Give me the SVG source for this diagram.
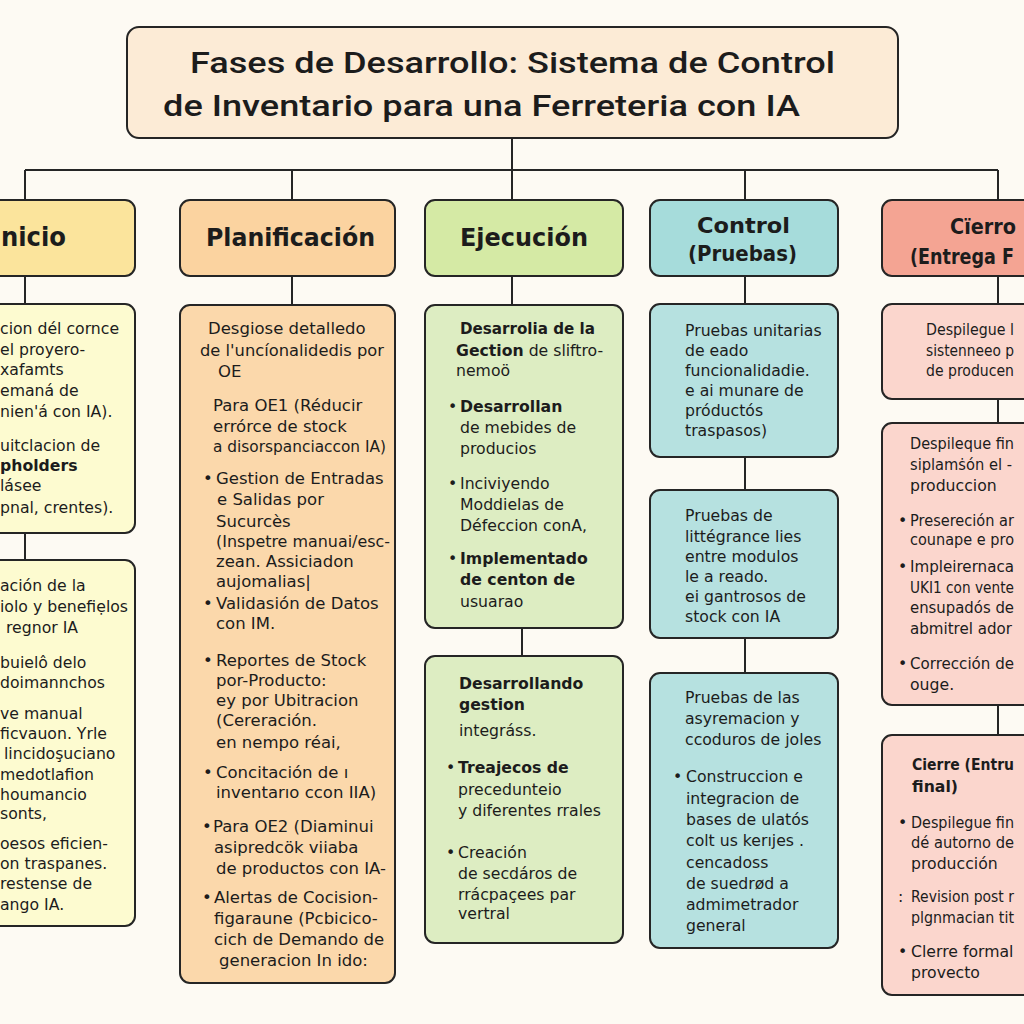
<svg xmlns="http://www.w3.org/2000/svg" width="1024" height="1024" viewBox="0 0 1024 1024">
<style>
.box{stroke:#252525;stroke-width:2}
.ln{stroke:#252525;stroke-width:2;fill:none}
text{font-family:"DejaVu Sans","Noto Sans",sans-serif;fill:#1c1c1c}
.t{font-size:15.7px}
.t2{font-size:16.5px}
.b{font-weight:700}
.sb{font-weight:700}
.h{font-size:24px;font-weight:700}
.h2{font-size:22px;font-weight:700}
.title{font-family:Roboto,"Liberation Sans",sans-serif;font-size:30px;font-weight:500}
</style>
<rect width="1024" height="1024" fill="#fdfaf3"/>
<g id="connectors">
<path class="ln" d="M512 138V170M25 170H998M25 170V200M292 170V200M512 170V200M745 170V200M998 170V200"/>
<path class="ln" d="M25 276V304M25 533V560M292 276V305M512 276V305M522 628V656M745 276V304M745 457V490M745 638V673M998 276V304M998 399V423M998 705V735"/>
</g>
<g id="title">
<rect class="box" x="127" y="27" width="771" height="111" rx="12" fill="#fcebd6"/>
<text class="title" x="190" y="73" textLength="645" lengthAdjust="spacingAndGlyphs">Fases de Desarrollo: Sistema de Control</text>
<text class="title" x="163" y="116" textLength="637" lengthAdjust="spacingAndGlyphs">de Inventario para una Ferreteria con IA</text>
</g>
<g id="inicio">
<rect class="box" x="-90" y="200" width="225" height="76" rx="10" fill="#fbe49c"/>
<text class="h" x="1" y="246" style="font-size:26px" textLength="65" lengthAdjust="spacingAndGlyphs">nicio</text>
</g>
<g id="inicio-1">
<rect class="box" x="-90" y="304" width="225" height="229" rx="10" fill="#fdfbd0"/>
<text class="t"><tspan x="0" y="334">cion dél cornce</tspan><tspan x="0" y="355">el proyero-</tspan><tspan x="0" y="375">xafamts</tspan><tspan x="0" y="396">emaná de</tspan><tspan x="0" y="417">nien'á con IA).</tspan><tspan x="0" y="451">uitclacion de</tspan><tspan x="0" y="471" class="b">pholders</tspan><tspan x="0" y="491">lásee</tspan><tspan x="0" y="513">pnal, crentes).</tspan></text>
</g>
<g id="inicio-2">
<rect class="box" x="-90" y="560" width="225" height="366" rx="10" fill="#fdfbd0"/>
<text class="t"><tspan x="0" y="591">ación de la</tspan><tspan x="0" y="612">iolo y benefiẹlos</tspan><tspan x="6" y="633">regnor IA</tspan><tspan x="0" y="668">buielô delo</tspan><tspan x="0" y="688">doimannchos</tspan><tspan x="0" y="719">ve manual</tspan><tspan x="0" y="739">ficvauon. Yrle</tspan><tspan x="4" y="759">lincidoşuciano</tspan><tspan x="0" y="780">medotlafion</tspan><tspan x="0" y="800">houmancio</tspan><tspan x="0" y="819">sonts,</tspan><tspan x="0" y="849">oesos eficien-</tspan><tspan x="0" y="869">on traspanes.</tspan><tspan x="0" y="889">restense de</tspan><tspan x="0" y="910">ango IA.</tspan></text>
</g>
<g id="planificacion">
<rect class="box" x="180" y="200" width="215" height="76" rx="10" fill="#fbd3a0"/>
<text class="h" x="206" y="246" textLength="169" lengthAdjust="spacingAndGlyphs">Planificación</text>
</g>
<g id="planificacion-1">
<rect class="box" x="180" y="305" width="215" height="678" rx="10" fill="#fbd8ab"/>
<text class="t2"><tspan x="208" y="334">Desgiose detalledo</tspan><tspan x="200" y="356" textLength="184" lengthAdjust="spacingAndGlyphs">de l'uncíonalidedis por</tspan><tspan x="218" y="377">OE</tspan><tspan x="213" y="411">Para OE1 (Réducir</tspan><tspan x="213" y="432">errórce de stock</tspan><tspan x="213" y="452" textLength="173" lengthAdjust="spacingAndGlyphs">a disorspanciaccon IA)</tspan>
<tspan x="203" y="484">•</tspan><tspan x="216" y="484">Gestion de Entradas</tspan><tspan x="217" y="505">e Salidas por</tspan><tspan x="216" y="527">Sucurcès</tspan><tspan x="216" y="547" textLength="174" lengthAdjust="spacingAndGlyphs">(Inspetre manuai/esc-</tspan><tspan x="216" y="567">zean. Assiciadon</tspan><tspan x="216" y="587">aujomalias|</tspan>
<tspan x="203" y="609">•</tspan><tspan x="216" y="609">Validasión de Datos</tspan><tspan x="216" y="629">con IM.</tspan>
<tspan x="203" y="666">•</tspan><tspan x="216" y="666">Reportes de Stock</tspan><tspan x="216" y="686">por-Producto:</tspan><tspan x="216" y="706">ey por Ubitracion</tspan><tspan x="216" y="726">(Cereración.</tspan><tspan x="216" y="748">en nempo réai,</tspan>
<tspan x="203" y="778">•</tspan><tspan x="216" y="778">Concitación de ı</tspan><tspan x="216" y="798">inventarıo ccon IIA)</tspan>
<tspan x="202" y="832">•</tspan><tspan x="213" y="832">Para OE2 (Diaminui</tspan><tspan x="214" y="853">asipredcök viiaba</tspan><tspan x="216" y="874">de productos con IA-</tspan>
<tspan x="202" y="903">•</tspan><tspan x="214" y="903">Alertas de Cocision-</tspan><tspan x="214" y="924">figaraune (Pcbicico-</tspan><tspan x="214" y="945">cich de Demando de</tspan><tspan x="219" y="966">generacion In ido:</tspan></text>
</g>
<g id="ejecucion">
<rect class="box" x="425" y="200" width="198" height="76" rx="10" fill="#d5eaa5"/>
<text class="h" x="460" y="246" textLength="128" lengthAdjust="spacingAndGlyphs">Ejecución</text>
</g>
<g id="ejecucion-1">
<rect class="box" x="425" y="305" width="198" height="323" rx="10" fill="#ddedc2"/>
<text class="t"><tspan x="460" y="334" class="sb" textLength="135" lengthAdjust="spacingAndGlyphs">Desarrolia de la</tspan><tspan x="456" y="356" class="sb">Gection</tspan><tspan> de sliftro-</tspan><tspan x="456" y="376">nemoö</tspan>
<tspan x="448" y="412">•</tspan><tspan x="460" y="412" class="sb">Desarrollan</tspan><tspan x="460" y="433">de mebides de</tspan><tspan x="460" y="454">producios</tspan>
<tspan x="448" y="489">•</tspan><tspan x="460" y="489">Inciviyendo</tspan><tspan x="460" y="510">Moddielas de</tspan><tspan x="460" y="531">Défeccion conA,</tspan>
<tspan x="448" y="564">•</tspan><tspan x="460" y="564" class="sb">Implementado</tspan><tspan x="460" y="585" class="sb">de centon de</tspan><tspan x="460" y="607">usuarao</tspan></text>
</g>
<g id="ejecucion-2">
<rect class="box" x="425" y="656" width="198" height="287" rx="10" fill="#ddedc2"/>
<text class="t"><tspan x="459" y="689" class="sb">Desarrollando</tspan><tspan x="459" y="710" class="sb">gestion</tspan><tspan x="459" y="736">integráss.</tspan>
<tspan x="446" y="773">•</tspan><tspan x="458" y="773" class="sb">Treajecos de</tspan><tspan x="458" y="795">precedunteio</tspan><tspan x="458" y="816">y diferentes rrales</tspan>
<tspan x="446" y="858">•</tspan><tspan x="458" y="858">Creación</tspan><tspan x="458" y="879">de secdáros de</tspan><tspan x="458" y="900">rrácpaçees par</tspan><tspan x="458" y="919">vertral</tspan></text>
</g>
<g id="control">
<rect class="box" x="650" y="200" width="188" height="76" rx="10" fill="#a6dcdb"/>
<text class="h2" x="697" y="233" textLength="93" lengthAdjust="spacingAndGlyphs">Control</text>
<text class="h2" x="688" y="261" textLength="109" lengthAdjust="spacingAndGlyphs">(Pruebas)</text>
</g>
<g id="control-1">
<rect class="box" x="650" y="304" width="188" height="153" rx="10" fill="#b6e1e0"/>
<text class="t"><tspan x="685" y="336">Pruebas unitarias</tspan><tspan x="685" y="356">de eado</tspan><tspan x="685" y="376">funcionalidadie.</tspan><tspan x="685" y="396">e ai munare de</tspan><tspan x="685" y="416">próductós</tspan><tspan x="685" y="436">traspasos)</tspan></text>
</g>
<g id="control-2">
<rect class="box" x="650" y="490" width="188" height="148" rx="10" fill="#b6e1e0"/>
<text class="t"><tspan x="685" y="521">Pruebas de</tspan><tspan x="685" y="542">littégrance lies</tspan><tspan x="685" y="562">entre modulos</tspan><tspan x="685" y="582">le a reado.</tspan><tspan x="685" y="602">ei gantrosos de</tspan><tspan x="685" y="622">stock con IA</tspan></text>
</g>
<g id="control-3">
<rect class="box" x="650" y="673" width="188" height="275" rx="10" fill="#b6e1e0"/>
<text class="t"><tspan x="685" y="703">Pruebas de las</tspan><tspan x="685" y="724">asyremacion y</tspan><tspan x="685" y="745">ccoduros de joles</tspan>
<tspan x="673" y="782">•</tspan><tspan x="686" y="782">Construccion e</tspan><tspan x="686" y="804">integracion de</tspan><tspan x="686" y="825">bases de ulatós</tspan><tspan x="686" y="846">colt us kerıjes .</tspan><tspan x="686" y="868">cencadoss</tspan><tspan x="686" y="889">de suedrød a</tspan><tspan x="686" y="910">admimetrador</tspan><tspan x="686" y="931">general</tspan></text>
</g>
<g id="cierre">
<rect class="box" x="882" y="200" width="220" height="76" rx="10" fill="#f4a493"/>
<text class="h2" x="950" y="234" textLength="66" lengthAdjust="spacingAndGlyphs">Cïerro</text>
<text class="h2" x="910" y="264" textLength="104" lengthAdjust="spacingAndGlyphs">(Entrega F</text>
</g>
<g id="cierre-1">
<rect class="box" x="882" y="304" width="220" height="95" rx="10" fill="#fbd6cd"/>
<text class="t"><tspan x="926" y="335" textLength="88" lengthAdjust="spacingAndGlyphs">Despilegue l</tspan><tspan x="926" y="356" textLength="88" lengthAdjust="spacingAndGlyphs">sistenneeo p</tspan><tspan x="926" y="376" textLength="88" lengthAdjust="spacingAndGlyphs">de producen</tspan></text>
</g>
<g id="cierre-2">
<rect class="box" x="882" y="423" width="220" height="282" rx="10" fill="#fbd6cd"/>
<text class="t"><tspan x="910" y="449" textLength="104" lengthAdjust="spacingAndGlyphs">Despileque fin</tspan><tspan x="910" y="470" textLength="102" lengthAdjust="spacingAndGlyphs">siplamṡón el -</tspan><tspan x="910" y="491">produccion</tspan>
<tspan x="898" y="526">•</tspan><tspan x="910" y="526" textLength="104" lengthAdjust="spacingAndGlyphs">Presereción ar</tspan><tspan x="910" y="545" textLength="104" lengthAdjust="spacingAndGlyphs">counape e pro</tspan>
<tspan x="898" y="572">•</tspan><tspan x="910" y="572" textLength="104" lengthAdjust="spacingAndGlyphs">Impleirernaca</tspan><tspan x="910" y="593" textLength="104" lengthAdjust="spacingAndGlyphs">UKI1 con vente</tspan><tspan x="910" y="613" textLength="104" lengthAdjust="spacingAndGlyphs">ensupadós de</tspan><tspan x="910" y="634" textLength="102" lengthAdjust="spacingAndGlyphs">abmitrel ador</tspan>
<tspan x="898" y="669">•</tspan><tspan x="910" y="669" textLength="104" lengthAdjust="spacingAndGlyphs">Corrección de</tspan><tspan x="910" y="690">ouge.</tspan></text>
</g>
<g id="cierre-3">
<rect class="box" x="882" y="735" width="220" height="260" rx="10" fill="#fbd6cd"/>
<text class="t"><tspan x="912" y="770" class="sb" textLength="102" lengthAdjust="spacingAndGlyphs">Cierre (Entru</tspan><tspan x="912" y="792" class="sb">final)</tspan>
<tspan x="898" y="828">•</tspan><tspan x="911" y="828" textLength="103" lengthAdjust="spacingAndGlyphs">Despilegue fin</tspan><tspan x="911" y="848" textLength="103" lengthAdjust="spacingAndGlyphs">dé autorno de</tspan><tspan x="911" y="869">producción</tspan>
<tspan x="898" y="902">:</tspan><tspan x="911" y="902" textLength="103" lengthAdjust="spacingAndGlyphs">Revision post r</tspan><tspan x="911" y="923" textLength="103" lengthAdjust="spacingAndGlyphs">plgnmacian tit</tspan>
<tspan x="898" y="957">•</tspan><tspan x="911" y="957">Clerre formal</tspan><tspan x="911" y="978">provecto</tspan></text>
</g>
</svg>
